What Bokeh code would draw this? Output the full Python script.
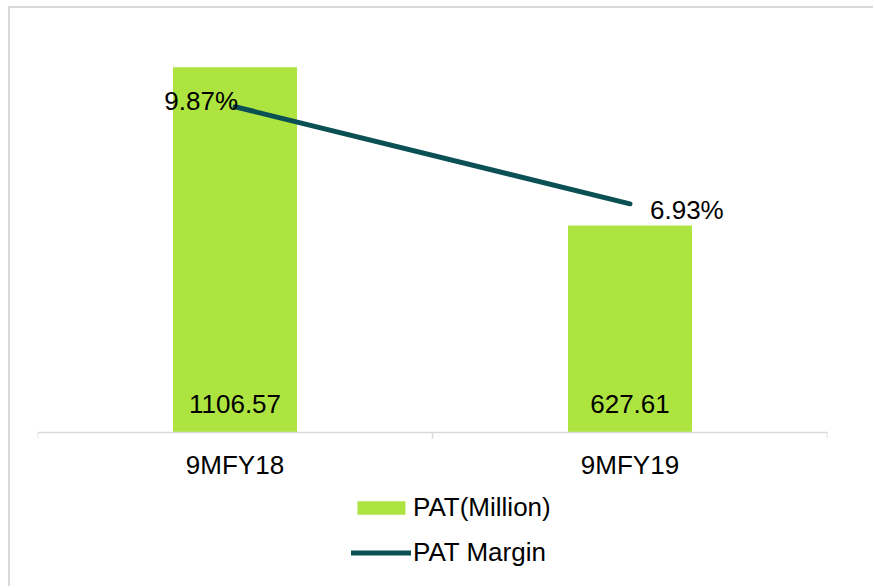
from bokeh.plotting import figure
from bokeh.models import Range1d, FixedTicker, Label, Legend, LegendItem
from bokeh.embed import file_html
from bokeh.resources import INLINE

# ---- data ----
categories = ["9MFY18", "9MFY19"]
pat_million = [1106.57, 627.61]
pat_margin = [9.87, 6.93]

# ---- styling / layout ----
BAR_COLOR = "#ADE440"
LINE_COLOR = "#0B5054"
GRID_GRAY = "#D9D9D9"
FONT = "Liberation Sans"
FS = "26px"

W, H = 865, 580
TOP, LEFT, RIGHT = 28, 27, 48
PLOT_PX = 396          # pixels from value 0 to axis max
BELOW_PX = H - TOP - PLOT_PX   # room under the category axis for labels + legend
Y_MAX, PCT_MAX = 1200, 12

xs = [i + 0.5 for i in range(len(categories))]

p = figure(width=W, height=H, output_backend="svg", toolbar_location=None,
           x_range=Range1d(0, len(categories)),
           y_range=Range1d(-Y_MAX * BELOW_PX / PLOT_PX, Y_MAX),
           y_axis_location=None, min_border_left=LEFT, min_border_right=RIGHT,
           min_border_top=TOP, min_border_bottom=0)
p.extra_y_ranges = {"pct": Range1d(-PCT_MAX * BELOW_PX / PLOT_PX, PCT_MAX)}
p.outline_line_color = None
p.grid.visible = False
p.background_fill_color = "white"
p.border_fill_color = "white"
p.styles = {"margin-left": "8px", "margin-top": "6px",
            "border-left": f"2px solid {GRID_GRAY}", "border-top": f"2px solid {GRID_GRAY}"}

bars = p.vbar(x=xs, top=pat_million, bottom=0, width=0.314, fill_color=BAR_COLOR, line_color=None)
line = p.line(x=xs, y=pat_margin, y_range_name="pct", line_color=LINE_COLOR,
              line_width=5, line_cap="round")

ax = p.xaxis[0]
ax.fixed_location = 0
ax.ticker = FixedTicker(ticks=xs, minor_ticks=[float(i) for i in range(len(categories) + 1)])
ax.major_label_overrides = {x: c for x, c in zip(xs, categories)}
ax.axis_line_color = GRID_GRAY
ax.axis_line_width = 1.5
ax.major_tick_line_color = None
ax.major_tick_out = 0
ax.major_tick_in = 0
ax.minor_tick_line_color = GRID_GRAY
ax.minor_tick_line_width = 1.5
ax.minor_tick_out = 6
ax.minor_tick_in = 0
ax.major_label_standoff = 11
ax.major_label_text_font = FONT
ax.major_label_text_font_size = FS
ax.major_label_text_color = "#000000"

for x, v in zip(xs, pat_million):
    p.add_layout(Label(x=x, y=0, text=f"{v:.2f}", text_align="center",
                       text_baseline="middle", y_offset=29,
                       text_font=FONT, text_font_size=FS, text_color="#000000"))

pct_offsets = [(3, 6, "right"), (20, -6, "left")]
for x, v, (dx, dy, al) in zip(xs, pat_margin, pct_offsets):
    p.add_layout(Label(x=x, y=v, y_range_name="pct", text=f"{v:.2f}%", text_align=al,
                       text_baseline="middle", x_offset=dx, y_offset=dy,
                       text_font=FONT, text_font_size=FS, text_color="#000000"))

legend = Legend(items=[LegendItem(label="PAT(Million)", renderers=[bars]),
                       LegendItem(label="PAT Margin", renderers=[line])],
                location=(314, 20), orientation="vertical", padding=0, margin=0,
                spacing=14, glyph_width=60, glyph_height=17, label_height=30,
                label_standoff=2, label_text_font=FONT, label_text_font_size=FS,
                label_text_color="#000000", border_line_color=None,
                background_fill_alpha=0)
p.add_layout(legend)

open("out.html", "w").write(file_html(p, INLINE))
